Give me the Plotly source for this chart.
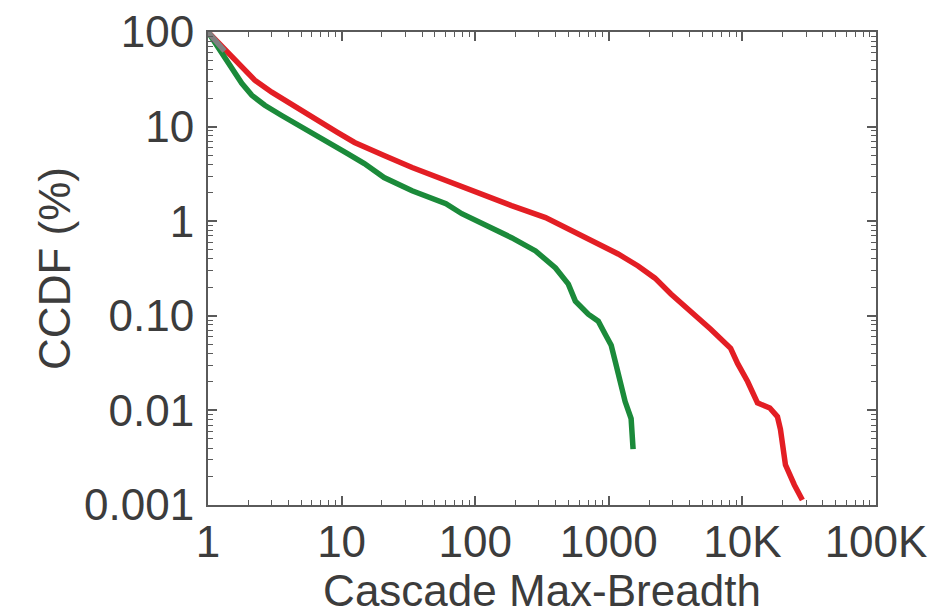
import plotly.graph_objects as go

# Cascade max-breadth values (x) and CCDF in percent (y)
red_x = [1, 1.34, 1.67, 2.24, 3.0, 3.95, 5.28, 7.07, 9.3, 12.5, 16.7, 20.8, 33.7, 60.4, 106, 187, 336, 592, 834,
         1175, 1656, 2217, 2918, 3908, 4634, 5794, 8166, 9200, 10940, 12970, 16040, 18290, 19260, 19910, 21000,
         24500, 28100]
red_y = [100, 64.4, 46.9, 30.9, 23.1, 18.1, 14.2, 11.1, 8.68, 6.8, 5.59, 4.94, 3.69, 2.68, 1.95, 1.46, 1.09, 0.735,
         0.59, 0.45, 0.336, 0.25, 0.17, 0.12, 0.094, 0.072, 0.0453, 0.0314, 0.0202, 0.012, 0.0106, 0.0086, 0.0063,
         0.0041, 0.00266, 0.00163, 0.00113]

green_x = [1, 1.27, 1.51, 1.79, 2.13, 2.66, 3.56, 4.69, 6.27, 8.39, 11.0, 14.8, 20.8, 33.7, 60.4, 79.4, 126, 187,
           283, 399, 498, 562, 702, 834, 940, 1042, 1117, 1237, 1325, 1469, 1520]
green_y = [100, 59.8, 42.5, 28.7, 21.4, 16.8, 13.1, 10.5, 8.47, 6.63, 5.2, 4.07, 2.89, 2.10, 1.53, 1.2, 0.89, 0.67,
           0.485, 0.32, 0.216, 0.143, 0.104, 0.0877, 0.0638, 0.0488, 0.033, 0.0188, 0.0124, 0.0082, 0.0039]

gray_x = [1, 1.33]
gray_y = [100, 63]

x_tickvals = [1, 10, 100, 1000, 10000, 100000]
x_ticktext = ["1", "10", "100", "1000", "10K", "100K"]
y_tickvals = [100, 10, 1, 0.1, 0.01, 0.001]
y_ticktext = ["100", "10", "1", "0.10", "0.01", "0.001"]

FONT = "Liberation Sans, Arial, sans-serif"
TXT = "#3c3c3c"
AX = "#5a5a5a"
FS = 44

fig = go.Figure()
fig.add_trace(go.Scatter(x=red_x, y=red_y, mode="lines", line=dict(color="#e31e24", width=5.5), showlegend=False))
fig.add_trace(go.Scatter(x=green_x, y=green_y, mode="lines", line=dict(color="#1b8a3a", width=5.5), showlegend=False))
fig.add_trace(go.Scatter(x=gray_x, y=gray_y, mode="lines", line=dict(color="#808080", width=5.5), showlegend=False))

axis_common = dict(
    showgrid=False, zeroline=False, showline=True, linecolor=AX, linewidth=2, mirror="ticks",
    ticks="inside", ticklen=9, tickwidth=2, tickcolor=AX,
    minor=dict(ticks="inside", ticklen=5, tickwidth=1, tickcolor=AX, dtick="D1", showgrid=False),
    tickfont=dict(family=FONT, size=FS, color=TXT),
)

fig.update_xaxes(type="log", range=[0, 5], tickvals=x_tickvals, ticktext=x_ticktext,
                 ticklabelstandoff=-3,
                 title=dict(text="Cascade Max-Breadth", font=dict(family=FONT, size=FS, color=TXT), standoff=13),
                 **axis_common)
fig.update_yaxes(type="log", range=[-3, 2], tickvals=y_tickvals, ticktext=y_ticktext,
                 ticklabelstandoff=3,
                 title=dict(text="CCDF (%)", font=dict(family=FONT, size=FS, color=TXT), standoff=0),
                 **axis_common)

fig.update_layout(
    width=937, height=615,
    margin=dict(l=208, r=61, t=32, b=110, autoexpand=False),
    paper_bgcolor="white", plot_bgcolor="white",
    font=dict(family=FONT, color=TXT),
)

fig.write_html("out.html", config={"displayModeBar": False},
               post_script="document.body.style.margin='0';")
